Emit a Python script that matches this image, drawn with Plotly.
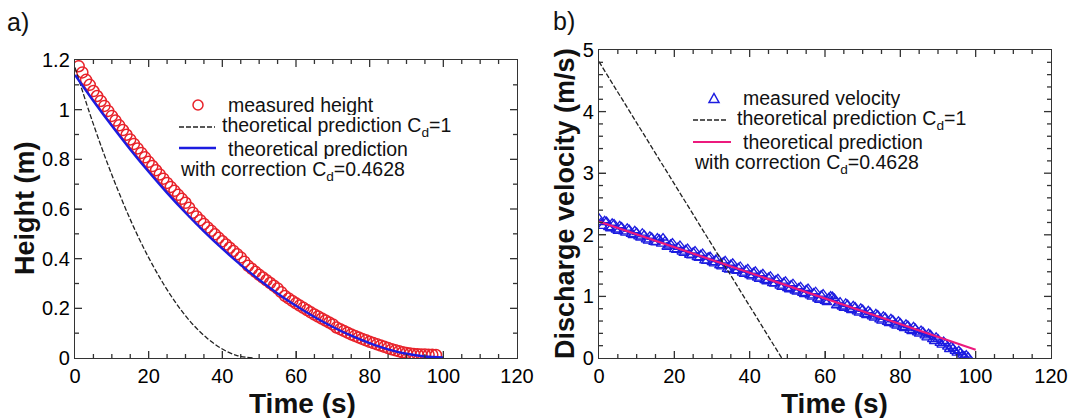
import plotly.graph_objects as go

W, H = 1074, 418

# ---------------- data ----------------
# panel a) measured height (s, m)
t_meas = list(range(1, 99))
h_meas = [1.175, 1.150, 1.120, 1.100, 1.075, 1.055, 1.035, 1.015, 0.995, 0.975,
          0.956, 0.937, 0.918, 0.899, 0.880, 0.862, 0.844, 0.826, 0.808, 0.790,
          0.773, 0.756, 0.739, 0.722, 0.705, 0.689, 0.673, 0.657, 0.641, 0.625,
          0.605, 0.585, 0.570, 0.555, 0.540, 0.526, 0.512, 0.498, 0.484, 0.470,
          0.457, 0.444, 0.431, 0.418, 0.405, 0.388, 0.371, 0.359, 0.347, 0.335,
          0.324, 0.313, 0.302, 0.291, 0.280, 0.265, 0.250, 0.240, 0.230, 0.220,
          0.211, 0.202, 0.193, 0.184, 0.175, 0.167, 0.159, 0.151, 0.143, 0.135,
          0.123, 0.116, 0.109, 0.102, 0.095, 0.089, 0.083, 0.077, 0.071, 0.065,
          0.060, 0.055, 0.050, 0.045, 0.040, 0.035, 0.031, 0.027, 0.023, 0.020,
          0.018, 0.016, 0.015, 0.014, 0.014, 0.013, 0.013, 0.012]

# panel a) theoretical prediction with correction Cd=0.4628
t_fit = [0, 5, 10, 15, 20, 25, 30, 35, 40, 45, 50, 55, 60, 65, 70, 75, 80, 85, 90, 95, 100]
h_fit = [1.140, 1.035, 0.935, 0.840, 0.750, 0.665, 0.585, 0.510, 0.440, 0.375, 0.315,
         0.260, 0.210, 0.165, 0.125, 0.090, 0.060, 0.035, 0.017, 0.006, 0.002]

# panel a) theoretical prediction Cd=1
t_cd1 = [0, 4, 8, 12, 16, 20, 24, 28, 32, 36, 40, 44, 48.5]
h_cd1 = [1.170, 0.985, 0.816, 0.663, 0.525, 0.404, 0.299, 0.209, 0.135, 0.078, 0.036, 0.010, 0.0]

# panel b) measured discharge velocity (s, m/s): whole-second samples
t_vel_a = list(range(0, 99))
v_vel_a = [2.27, 2.14, 2.22, 2.10, 2.18, 2.06, 2.13, 2.03, 2.09, 1.99,
           2.04, 1.95, 2.00, 1.90, 1.96, 1.87, 1.93, 1.95, 1.80, 1.85,
           1.76, 1.80, 1.72, 1.76, 1.67, 1.72, 1.63, 1.68, 1.58, 1.64,
           1.55, 1.60, 1.50, 1.56, 1.44, 1.52, 1.42, 1.47, 1.38, 1.43,
           1.34, 1.39, 1.30, 1.35, 1.26, 1.31, 1.21, 1.27, 1.17, 1.23,
           1.13, 1.19, 1.09, 1.14, 1.05, 1.11, 1.01, 1.06, 0.96, 1.02,
           0.92, 0.98, 1.00, 0.85, 0.91, 0.81, 0.87, 0.77, 0.83, 0.73,
           0.79, 0.69, 0.74, 0.65, 0.70, 0.60, 0.66, 0.56, 0.62, 0.52,
           0.57, 0.48, 0.53, 0.43, 0.48, 0.39, 0.43, 0.33, 0.38, 0.27,
           0.31, 0.21, 0.24, 0.14, 0.16, 0.08, 0.09, 0.03, 0.02]
# half-second samples
t_vel_b = [k + 0.5 for k in range(0, 98)]
v_vel_b = [2.20, 2.23, 2.12, 2.19, 2.08, 2.15, 2.05, 2.11, 2.01, 2.07,
           1.97, 2.03, 1.92, 1.98, 1.88, 1.95, 1.85, 1.90, 1.82, 1.87,
           1.75, 1.83, 1.70, 1.78, 1.66, 1.74, 1.62, 1.70, 1.57, 1.65,
           1.53, 1.62, 1.48, 1.58, 1.43, 1.54, 1.41, 1.49, 1.36, 1.45,
           1.32, 1.41, 1.28, 1.37, 1.24, 1.33, 1.20, 1.29, 1.15, 1.25,
           1.11, 1.21, 1.07, 1.16, 1.03, 1.13, 0.99, 1.08, 0.94, 1.04,
           0.90, 1.01, 0.97, 0.88, 0.83, 0.89, 0.79, 0.85, 0.75, 0.81,
           0.71, 0.77, 0.67, 0.72, 0.62, 0.68, 0.58, 0.64, 0.54, 0.60,
           0.50, 0.55, 0.45, 0.51, 0.41, 0.45, 0.36, 0.40, 0.30, 0.34,
           0.24, 0.27, 0.18, 0.19, 0.11, 0.12, 0.05, 0.05]

# panel b) theoretical predictions
t_vfit = [0, 100]
v_fit = [2.215, 0.135]
t_vcd1 = [0, 48.5]
v_cd1 = [4.81, 0.0]

x_ticks = [0, 20, 40, 60, 80, 100, 120]

# ---------------- styling ----------------
RED = "#e8222a"
BLUE = "#1c1ce0"
PINK = "#ec1a7d"
FONT = "Liberation Sans, Arial, sans-serif"
AX = "#333333"

# plot areas in pixels (left, right, top, bottom)
A_BOX = (75, 517, 60, 358)
B_BOX = (599, 1051, 50, 358)


def px(x):
    return x / W


def py(y):
    return 1 - y / H


fig = go.Figure()

# panel a
fig.add_trace(go.Scatter(x=t_meas, y=h_meas, mode="markers", xaxis="x", yaxis="y",
                         marker=dict(symbol="circle-open", size=11, color=RED,
                                     line=dict(width=1.5, color=RED)),
                         showlegend=False))
fig.add_trace(go.Scatter(x=t_cd1, y=h_cd1, mode="lines", xaxis="x", yaxis="y",
                         line=dict(color="#222", width=1.3, dash="5px,2px", shape="spline"),
                         showlegend=False))
fig.add_trace(go.Scatter(x=t_fit, y=h_fit, mode="lines", xaxis="x", yaxis="y",
                         line=dict(color=BLUE, width=2.4, shape="spline"),
                         showlegend=False))

# panel b
fig.add_trace(go.Scatter(x=t_vel_a + t_vel_b, y=v_vel_a + v_vel_b, mode="markers",
                         xaxis="x2", yaxis="y2",
                         marker=dict(symbol="triangle-up-open", size=8.5, color=BLUE,
                                     line=dict(width=1.3, color=BLUE)),
                         showlegend=False))
fig.add_trace(go.Scatter(x=t_vcd1, y=v_cd1, mode="lines", xaxis="x2", yaxis="y2",
                         line=dict(color="#222", width=1.3, dash="5px,2px"),
                         showlegend=False))
fig.add_trace(go.Scatter(x=t_vfit, y=v_fit, mode="lines", xaxis="x2", yaxis="y2",
                         line=dict(color=PINK, width=2.2),
                         showlegend=False))

axis_common = dict(showline=True, linecolor=AX, linewidth=1.4, mirror=True,
                   ticks="inside", ticklen=7, tickwidth=1.4, tickcolor=AX,
                   showgrid=False, zeroline=False,
                   tickfont=dict(family=FONT, size=20, color="black"))

fig.update_layout(
    template="none",
    width=W, height=H,
    margin=dict(l=0, r=0, t=0, b=0),
    paper_bgcolor="white", plot_bgcolor="white",
    showlegend=False,
    xaxis=dict(domain=[px(A_BOX[0]), px(A_BOX[1])], range=[0, 120], tickvals=x_ticks,
               anchor="y", **axis_common),
    yaxis=dict(domain=[py(A_BOX[3]), py(A_BOX[2])], range=[0, 1.2], dtick=0.2,
               anchor="x", **axis_common),
    xaxis2=dict(domain=[px(B_BOX[0]), px(B_BOX[1])], range=[0, 120], tickvals=x_ticks,
                anchor="y2", **axis_common),
    yaxis2=dict(domain=[py(B_BOX[3]), py(B_BOX[2])], range=[0, 5], dtick=1,
                anchor="x2", **axis_common),
)

# ---- tick marks on all four sides (inside), major + minor ----
shapes = []
MAJ, MIN = 7, 4


def tick_marks(xr, yr, box, xmax, xstep, xmaj, ymax, ystep, ymaj):
    w = box[1] - box[0]
    h = box[3] - box[2]
    n = int(round(xmax / xstep))
    for i in range(1, n):
        v = i * xstep
        L = MAJ if i % xmaj == 0 else MIN
        for y0, y1 in ((0, L / h), (1 - L / h, 1)):
            shapes.append(dict(type="line", xref=xr, yref=yr + " domain", x0=v, x1=v,
                               y0=y0, y1=y1, line=dict(color=AX, width=1.3)))
    n = int(round(ymax / ystep))
    for i in range(1, n):
        v = i * ystep
        L = MAJ if i % ymaj == 0 else MIN
        for x0, x1 in ((0, L / w), (1 - L / w, 1)):
            shapes.append(dict(type="line", xref=xr + " domain", yref=yr, x0=x0, x1=x1,
                               y0=v, y1=v, line=dict(color=AX, width=1.3)))


tick_marks("x", "y", A_BOX, 120, 5, 4, 1.2, 0.1, 2)
tick_marks("x2", "y2", B_BOX, 120, 5, 4, 5, 0.2, 5)

annots = []


def text(x, y, s, size=18, angle=0, xanchor="left", yanchor="middle", height=None):
    a = dict(x=px(x), y=py(y), xref="paper", yref="paper", text=s,
             showarrow=False, xanchor=xanchor, yanchor=yanchor,
             textangle=angle, borderpad=0,
             font=dict(family=FONT, size=size, color="#111"))
    if height is not None:
        a["height"] = height
        a["valign"] = "middle"
    annots.append(a)


# panel labels
text(6, 22, "a)", size=25)
text(552, 21, "b)", size=25)
# axis titles
text(302, 420, "<b>Time (s)</b>", size=28, xanchor="center", yanchor="bottom", height=32)
text(834, 420, "<b>Time (s)</b>", size=28, xanchor="center", yanchor="bottom", height=32)
text(25, 209, "<b>Height (m)</b>", size=27, angle=-90, xanchor="center")
text(565, 204, "<b>Discharge velocity (m/s)</b>", size=27, angle=-90, xanchor="center")

# legend a
LF = 19.5
LH = 20
text(227, 105, "measured height", size=LF, height=LH)
text(221, 127, "theoretical prediction C<sub>d</sub>=1", size=LF, height=LH)
text(227, 149, "theoretical prediction", size=LF, height=LH)
text(179, 171, "with correction C<sub>d</sub>=0.4628", size=LF, height=LH)
# legend b
text(742, 98, "measured velocity", size=LF, height=LH)
text(736, 120, "theoretical prediction C<sub>d</sub>=1", size=LF, height=LH)
text(742, 142, "theoretical prediction", size=LF, height=LH)
text(693, 164, "with correction C<sub>d</sub>=0.4628", size=LF, height=LH)

fig.update_layout(annotations=annots)

# legend symbols
shapes.append(dict(type="circle", xref="paper", yref="paper",
                   x0=px(193), x1=px(203), y0=py(110), y1=py(100),
                   line=dict(color=RED, width=1.5)))
shapes.append(dict(type="line", xref="paper", yref="paper",
                   x0=px(179), x1=px(215), y0=py(127), y1=py(127),
                   line=dict(color="#222", width=1.3, dash="5px,2px")))
shapes.append(dict(type="line", xref="paper", yref="paper",
                   x0=px(179), x1=px(216), y0=py(148), y1=py(148),
                   line=dict(color=BLUE, width=2.4)))
shapes.append(dict(type="path", xref="paper", yref="paper",
                   path="M {:.5f},{:.5f} L {:.5f},{:.5f} L {:.5f},{:.5f} Z".format(
                       px(709), py(102.5), px(719), py(102.5), px(714), py(93.5)),
                   line=dict(color=BLUE, width=1.5)))
shapes.append(dict(type="line", xref="paper", yref="paper",
                   x0=px(693), x1=px(727), y0=py(120), y1=py(120),
                   line=dict(color="#222", width=1.3, dash="5px,2px")))
shapes.append(dict(type="line", xref="paper", yref="paper",
                   x0=px(693), x1=px(731), y0=py(142), y1=py(142),
                   line=dict(color=PINK, width=2.2)))
fig.update_layout(shapes=shapes)

fig.write_html("out.html", config={"displayModeBar": False},
               post_script="document.body.style.margin='0';")
